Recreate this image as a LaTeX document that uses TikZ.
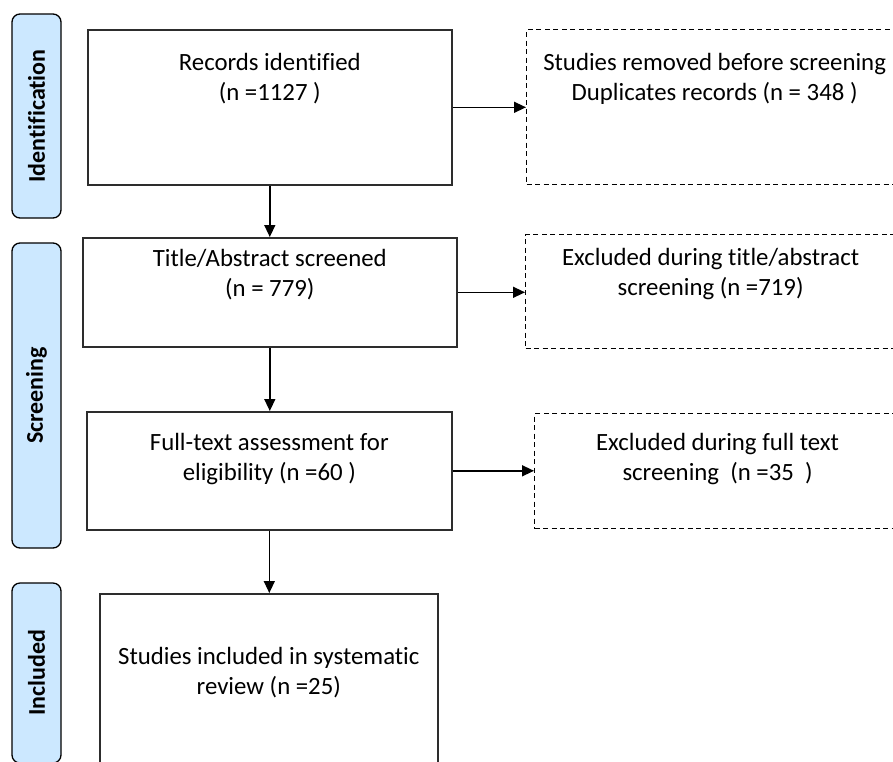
\documentclass[tikz,border=0pt]{standalone}
\usepackage{fontspec}
\setmainfont{Carlito}[RawFeature={-liga;-rlig;-clig;-dlig;-calt}]
\usetikzlibrary{arrows.meta}
\definecolor{stageblue}{RGB}{204,232,255}
\definecolor{boxline}{RGB}{45,45,45}

\begin{document}
\begin{tikzpicture}[x=1pt,y=-1pt,
		stage/.style={draw,line width=1.3pt,fill=stageblue,rounded corners=8pt,rotate=90,minimum height=49pt,inner sep=0pt,font=\bfseries\fontsize{24}{29}\selectfont},
		box/.style={draw=boxline,line width=1.6pt,anchor=north west,inner sep=0pt},
		dbox/.style={draw,line width=1.2pt,dash pattern=on 5pt off 3.5pt,anchor=north west,inner sep=0pt},
		txt/.style={align=center,anchor=north,inner sep=0pt,font=\fontsize{24.8}{30}\selectfont},
		arr/.style={line width=1.4pt,-{Triangle[length=12pt,width=11pt]}}]
	\clip (0,0) rectangle (893,761);
	% stages on the left
	\node[stage,minimum width=204pt] (ident) at (36.5,116) {Identification};
	\node[stage,minimum width=305pt] (screen) at (36.5,395.5) {Screening};
	\node[stage,minimum width=180pt] (incl) at (36.5,673) {Included};
	% main column
	\node[box,minimum width=364pt,minimum height=155pt] (rec) at (87,29) {};
	\node[box,minimum width=374pt,minimum height=109pt] (title) at (82,237) {};
	\node[box,minimum width=365pt,minimum height=118pt] (full) at (86,411) {};
	\node[box,minimum width=338pt,minimum height=180pt] (review) at (99,593) {};
	% excluded
	\node[dbox,minimum width=376pt,minimum height=155pt] (dup) at (526,29) {};
	\node[dbox,minimum width=370pt,minimum height=114pt] (exta) at (525,234) {};
	\node[dbox,minimum width=366pt,minimum height=115pt] (exft) at (534,413) {};
	% texts
	\node[txt] (rectxt) at ([yshift=-24pt]rec.north) {Records identified\\(n =1127 )};
	\node[txt] (titletxt) at ([yshift=-12pt]title.north) {Title/Abstract screened\\(n = 779)};
	\node[txt] (fulltxt) at ([yshift=-22pt]full.north) {Full-text assessment for\\eligibility (n =60 )};
	\node[txt] (reviewtxt) at ([yshift=-54pt]review.north) {Studies included in systematic\\review (n =25)};
	\node[txt] (duptxt) at ([yshift=-24pt]dup.north) {Studies removed before screening\\Duplicates records (n = 348 )};
	\node[txt] (extatxt) at ([yshift=-14pt]exta.north) {Excluded during title/abstract\\screening (n =719)};
	\node[txt] (exfttxt) at ([yshift=-20pt]exft.north) {Excluded during full text\\screening~~(n =35~~)};
	% arrows
	\draw[arr] (rec.south) -- (title.north);
	\draw[arr] (title.south) -- (title.south |- full.north);
	\draw[arr] (full.south) -- (full.south |- review.north);
	\draw[arr] (rec.east) -- (rec.east -| dup.west);
	\draw[arr] (title.east) -- (title.east -| exta.west);
	\draw[arr] (full.east) -- (full.east -| exft.west);
\end{tikzpicture}
\end{document}
